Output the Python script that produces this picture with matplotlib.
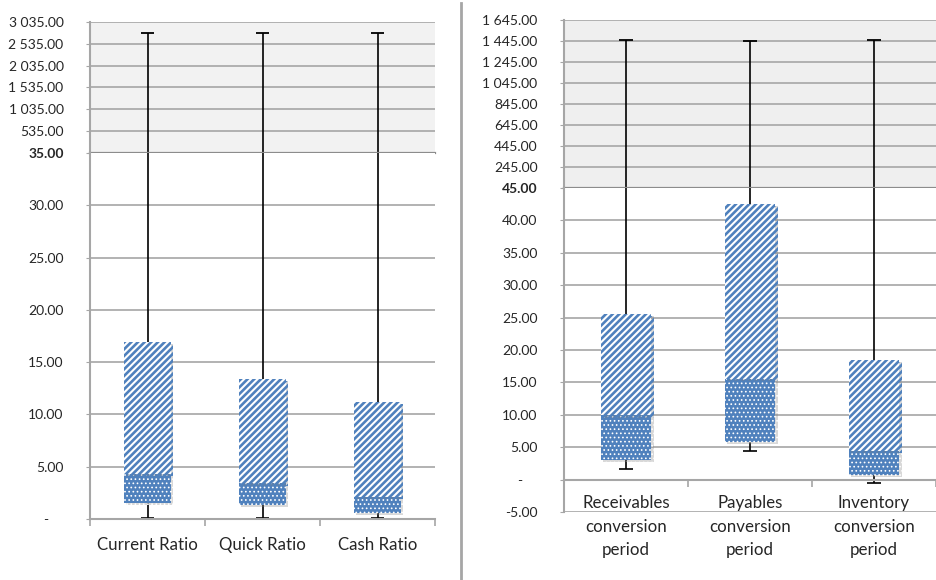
import matplotlib
matplotlib.use('Agg')
import matplotlib.pyplot as plt
import matplotlib.patheffects as pe
from matplotlib.lines import Line2D

plt.rcParams['font.family'] = ['Lato', 'DejaVu Sans']

# --- data ---
ratio_cats = ['Current Ratio', 'Quick Ratio', 'Cash Ratio']
ratio_min = [0.05, 0.05, 0.05]
ratio_q1 = [1.56, 1.34, 0.54]
ratio_med = [4.27, 3.40, 2.13]
ratio_q3 = [16.9, 13.35, 11.16]
ratio_max = [2790, 2781, 2781]

period_cats = ['Receivables\nconversion\nperiod', 'Payables\nconversion\nperiod',
               'Inventory\nconversion\nperiod']
period_min = [1.7, 4.4, -0.6]
period_q1 = [3.1, 5.75, 0.77]
period_med = [9.9, 15.5, 4.4]
period_q3 = [25.5, 42.6, 18.5]
period_max = [1451, 1442, 1454]

BLUE = '#4F81BD'
GRID = '#A6A6A6'
TXT = '#262626'
W, H = 936, 580
DOT_LW = 0.7
STRIPE_LW = 1.9


def fmt(v):
    if abs(v) < 1e-9:
        return '-    '
    return f'{v:,.2f}'.replace(',', ' ')


def panel(fig, x0, x1, y_top, y_brk, y_bot, cats, mins, q1, med, q3, mx,
          brk, top_hi, top_step, bot_lo, bot_step, upper_bg, zero_axis, xpad):
    l, w = x0 / W, (x1 - x0) / W
    ax_t = fig.add_axes([l, 1 - y_brk / H, w, (y_brk - y_top) / H])
    ax_b = fig.add_axes([l, 1 - y_bot / H, w, (y_bot - y_brk) / H])
    n = len(cats)
    xs = list(range(1, n + 1))
    for ax in (ax_t, ax_b):
        ax.set_xlim(0.5, n + 0.5)
        ax.set_axisbelow(True)
        ax.yaxis.grid(True, color=GRID, lw=1.2)
        for s in ('top', 'right'):
            ax.spines[s].set_visible(False)
        ax.spines['left'].set_color(GRID)
        ax.spines['left'].set_linewidth(1.5)
        ax.tick_params(axis='y', length=3, color=GRID, pad=16, labelsize=10,
                       labelcolor=TXT)
    ax_t.set_facecolor(upper_bg)
    ax_t.set_ylim(brk, top_hi)
    tt = [brk + top_step * i for i in range(int(round((top_hi - brk) / top_step)) + 1)]
    ax_t.set_yticks(tt, [fmt(v) for v in tt])
    ax_t.get_yticklabels()[0].set_fontweight('bold')
    ax_t.set_xticks([])
    ax_t.spines['bottom'].set_color('#8C8C8C')
    ax_t.spines['bottom'].set_linewidth(1.6)

    ax_b.set_ylim(bot_lo, brk)
    bt = [bot_lo + bot_step * i for i in range(int(round((brk - bot_lo) / bot_step)))]
    ax_b.set_yticks(bt, [fmt(v) for v in bt])
    if zero_axis:
        ax_b.spines['bottom'].set_position(('data', 0))
    ax_b.spines['bottom'].set_color(GRID)
    ax_b.spines['bottom'].set_linewidth(1.5)
    ax_b.set_xticks(xs, cats)
    ax_b.set_xticks([i + 0.5 for i in range(n + 1)], minor=True)
    ax_b.tick_params(axis='x', which='major', length=0, pad=xpad, labelsize=12.2,
                     labelcolor=TXT)
    ax_b.tick_params(axis='x', which='minor', length=5, color=GRID, width=1.2)
    for lab in ax_b.get_xticklabels():
        lab.set_linespacing(1.6)

    bw = 0.41
    shadow = [pe.SimplePatchShadow(offset=(1.5, -1.5), shadow_rgbFace='#808080', alpha=0.3),
              pe.Normal()]
    # lower half of box: blue with small white dots
    with plt.rc_context({'hatch.linewidth': DOT_LW}):
        lo_bars = ax_b.bar(xs, [m - a for m, a in zip(med, q1)], bottom=q1, width=bw,
                           color=BLUE, edgecolor='white', lw=0, hatch='....', zorder=3)
    # upper half of box: blue diagonal stripes on white
    with plt.rc_context({'hatch.linewidth': STRIPE_LW}):
        hi_bars = ax_b.bar(xs, [b - m for b, m in zip(q3, med)], bottom=med, width=bw,
                           facecolor='white', edgecolor=BLUE, lw=0, hatch='/////', zorder=3)
    for b in lo_bars:
        b.set_path_effects(shadow)
        if hasattr(b, 'set_hatch_linewidth'):
            b.set_hatch_linewidth(DOT_LW)
    for b in hi_bars:
        b.set_path_effects(shadow)
        if hasattr(b, 'set_hatch_linewidth'):
            b.set_hatch_linewidth(STRIPE_LW)
    # whiskers
    ax_b.vlines(xs, mins, q1, color='black', lw=1.2, zorder=2)
    ax_b.vlines(xs, q3, [brk] * n, color='black', lw=1.2, zorder=2)
    ax_b.hlines(mins, [x - 0.06 for x in xs], [x + 0.06 for x in xs],
                color='black', lw=1.2, zorder=2)
    ax_t.vlines(xs, [brk] * n, mx, color='black', lw=1.2, zorder=2)
    ax_t.hlines(mx, [x - 0.06 for x in xs], [x + 0.06 for x in xs],
                color='black', lw=1.3, zorder=2)
    return ax_t, ax_b


fig = plt.figure(figsize=(9.36, 5.8), dpi=100)

panel(fig, 90, 435, 22, 153, 519, ratio_cats, ratio_min, ratio_q1, ratio_med,
      ratio_q3, ratio_max, 35, 3035, 500, 0, 5, '#F2F2F2', False, 13)
panel(fig, 564, 936, 20, 188, 512, period_cats, period_min, period_q1, period_med,
      period_q3, period_max, 45, 1645, 200, -5, 5, '#EFEFEF', True, 11)

fig.add_artist(Line2D([461 / W, 461 / W], [0, 1 - 3 / H], transform=fig.transFigure,
                      color=GRID, lw=2))

fig.savefig('out.png', dpi=100)
